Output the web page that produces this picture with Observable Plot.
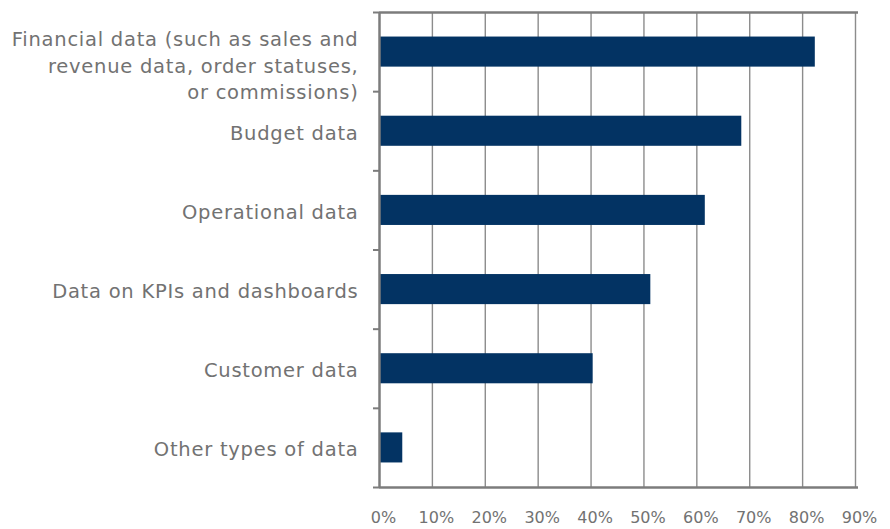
<!DOCTYPE html>
<html>
<head>
<meta charset="utf-8">
<script src="https://cdn.jsdelivr.net/npm/d3@7"></script>
<script src="https://cdn.jsdelivr.net/npm/@observablehq/plot@0.6"></script>
<style>
  html, body { margin: 0; padding: 0; background: #fff; }
  #chart svg { display: block; }
  .cat-label text { letter-spacing: 0.75px; }
</style>
</head>
<body>
<div id="chart"></div>
<script>
const categories = [
  "Financial data (such as sales and\nrevenue data, order statuses,\nor commissions)",
  "Budget data",
  "Operational data",
  "Data on KPIs and dashboards",
  "Customer data",
  "Other types of data"
];
const values = [0.824, 0.685, 0.616, 0.513, 0.404, 0.044];
const xTicks = [0, 0.1, 0.2, 0.3, 0.4, 0.5, 0.6, 0.7, 0.8, 0.9];
const labelShift = [12, 0, 0, 0, 0, 0];

const rows = categories.map((c, i) => ({ category: c, value: values[i], index: i, shift: labelShift[i] }));
const boundaries = d3.range(categories.length + 1);

const font = "'DejaVu Sans', 'Open Sans', sans-serif";
const gray = "#727272";

const plot = Plot.plot({
  width: 890,
  height: 529,
  marginLeft: 379,
  marginRight: 35,
  marginTop: 12,
  marginBottom: 42,
  style: { fontFamily: font, background: "#fff" },
  x: { domain: [0, 0.9] },
  y: { domain: [0, categories.length], range: [12, 487] },
  marks: [
    // vertical gridlines
    Plot.ruleX(xTicks.filter(d => d > 0), { stroke: "#8c8c8c", strokeWidth: 1.4 }),
    // bars
    Plot.rectX(rows, {
      x1: 0, x2: "value",
      y1: d => d.index + 0.31, y2: d => d.index + 0.69,
      fill: "#033363"
    }),
    // left axis line
    Plot.ruleX([0], { stroke: "#7c7c7c", strokeWidth: 2.5 }),
    // top and bottom frame lines
    Plot.ruleY([0, categories.length], { stroke: "#7c7c7c", strokeWidth: 2.5, insetRight: -3 }),
    // category boundary ticks (no labels)
    Plot.axisY(boundaries, { tickSize: 6, tickFormat: () => "", stroke: "#7c7c7c", strokeWidth: 2, label: null }),
    // category labels
    Plot.text(rows.filter(d => d.shift === 0), {
      x: 0, y: d => d.index + 0.5, text: "category", className: "cat-label",
      textAnchor: "end", dx: -21, fontSize: 19.5, fill: gray, lineHeight: 1.36
    }),
    Plot.text(rows.filter(d => d.shift !== 0), {
      x: 0, y: d => d.index + 0.5, text: "category", className: "cat-label",
      textAnchor: "end", dx: -21, dy: 12, fontSize: 19.5, fill: gray, lineHeight: 1.36
    }),
    // x tick labels
    Plot.axisX(xTicks, {
      tickSize: 0, tickPadding: 24, tickFormat: d3.format(".0%"),
      fontSize: 16, fill: gray, label: null, fontVariant: "normal", dx: 4
    })
  ]
});
document.getElementById("chart").appendChild(plot);
</script>
</body>
</html>
